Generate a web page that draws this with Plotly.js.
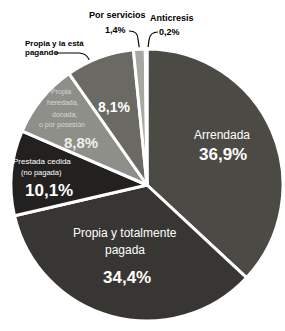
<!DOCTYPE html>
<html><head><meta charset="utf-8">
<script src="https://cdn.plot.ly/plotly-3.0.1.min.js"></script>
<style>html,body{margin:0;padding:0;background:#fff;overflow:hidden}</style>
</head><body><div id="chart" style="width:285px;height:331px"></div>
<script>
// ---- data ----
const categories = ["Arrendada", "Propia y totalmente pagada", "Prestada cedida (no pagada)",
  "Propia heredada, donada o por posesión", "Propia y la está pagando", "Por servicios", "Anticresis"];
const values = [36.9, 34.4, 10.1, 8.8, 8.1, 1.4, 0.2];
const valueLabels = ["36,9%", "34,4%", "10,1%", "8,8%", "8,1%", "1,4%", "0,2%"];
const sliceColors = ["#4b4a45", "#383632", "#232120", "#8f8f8a", "#6a6964", "#a8a8a2", "#d0d0cc"];

// ---- geometry ----
const W = 285, H = 331, CX = 147, CY = 185, R = 138;
const px = x => x / W, py = y => 1 - y / H;
function dom(r) { return { x: [px(CX - r), Math.min(1, px(CX + r))], y: [py(CY + r), py(CY - r)] }; }
const total = values.reduce((a, b) => a + b, 0);
function arcPoint(i, frac) {
  let cum = 0; for (let k = 0; k < i; k++) cum += values[k];
  const th = (cum + values[i] * frac) / total * 2 * Math.PI;
  return [CX + R * Math.sin(th), CY - R * Math.cos(th)];
}
const P = (x, y) => px(x).toFixed(5) + ',' + py(y).toFixed(5);

const base = {
  type: 'pie', values: values, labels: categories, sort: false, direction: 'clockwise',
  rotation: 0, textinfo: 'none', hoverinfo: 'none', showlegend: false
};
const outer = Object.assign({}, base, {
  domain: dom(R), marker: { colors: values.map(() => '#151413'), line: { color: '#ffffff', width: 3 } }
});
const inner = Object.assign({}, base, {
  domain: dom(R - 2), marker: { colors: sliceColors, line: { color: '#ffffff', width: 3 } }
});

const SANS = 'Liberation Sans, Arial, sans-serif';
function ann(text, x, y, size, color, opts) {
  return Object.assign({ text: text, x: px(x), y: py(y), xref: 'paper', yref: 'paper', showarrow: false,
    xanchor: 'center', yanchor: 'middle', font: { family: SANS, size: size, color: color || '#ffffff' } }, opts || {});
}
const B = t => '<b>' + t + '</b>';
const annotations = [
  ann(categories[0], 222, 135, 12),
  ann(B(valueLabels[0]), 223, 154, 17),
  ann("Propia y totalmente", 125, 233, 12),
  ann("pagada", 125, 250, 12),
  ann(B(valueLabels[1]), 127, 277, 17),
  ann("Prestada cedida", 42, 162, 8),
  ann("(no pagada)", 42, 172, 7.5),
  ann(B(valueLabels[2]), 49, 190, 17),
  ann("Propia", 61, 92, 7, '#d8d8d4'),
  ann("heredada,", 63, 103, 7, '#d8d8d4'),
  ann("donada,", 64, 114, 7, '#d8d8d4'),
  ann("o por posesión", 62, 125, 7, '#d8d8d4'),
  ann(B(valueLabels[3]), 81, 142, 15, '#eeeeea'),
  ann(B(valueLabels[4]), 114, 107, 14),
  ann(B("Propia y la está"), 23, 43, 8, '#000', { xanchor: 'left' }),
  ann(B("pagando"), 23, 52, 8, '#000', { xanchor: 'left' }),
  ann(B(categories[5]), 117, 15, 9, '#000'),
  ann(B(valueLabels[5]), 115, 30, 9, '#000'),
  ann(B(categories[6]), 172, 18, 9, '#000'),
  ann(B(valueLabels[6]), 169, 32, 9, '#000')
];

const t4 = arcPoint(4, 0.35), t5 = arcPoint(5, 0.5), t6 = arcPoint(6, 0.5);
const lineStyle = { color: '#000', width: 1.2 };
const shapes = [
  { type: 'path', xref: 'paper', yref: 'paper', line: lineStyle,
    path: 'M' + P(55, 53) + ' L' + P(79, 53) + ' Q' + P(86, 53) + ' ' + P(t4[0], t4[1]) },
  { type: 'path', xref: 'paper', yref: 'paper', line: lineStyle,
    path: 'M' + P(129, 31) + ' Q' + P(138, 31) + ' ' + P(138, 39) + ' L' + P(t5[0], t5[1]) },
  { type: 'path', xref: 'paper', yref: 'paper', line: lineStyle,
    path: 'M' + P(158, 32) + ' Q' + P(150, 32) + ' ' + P(149, 40) + ' L' + P(t6[0] + 2, t6[1]) }
];

Plotly.newPlot('chart', [outer, inner], {
  width: W, height: H, margin: { l: 0, r: 0, t: 0, b: 0 },
  paper_bgcolor: '#ffffff', annotations: annotations, shapes: shapes
}, { displayModeBar: false, staticPlot: true });
</script></body></html>
